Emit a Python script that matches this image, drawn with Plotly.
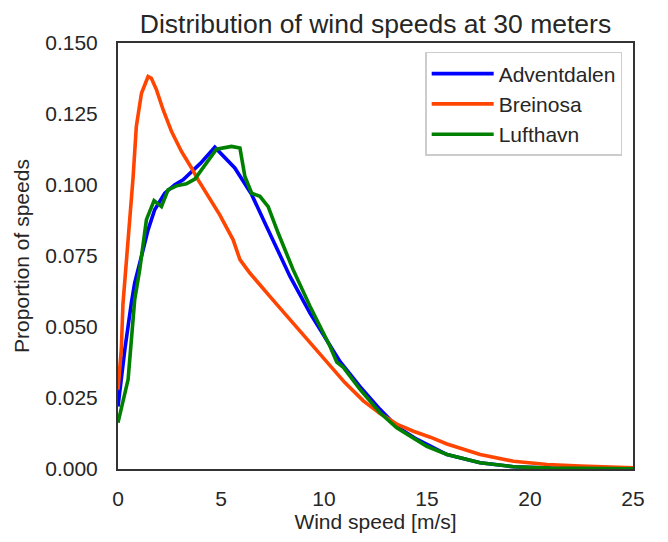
import plotly.graph_objects as go

# Adventdalen
adv_x = [0, 0.33, 0.65, 0.81, 1.14, 1.46, 1.78, 2.27, 2.76, 3.16, 4.0, 4.70, 5.67, 6.49, 7.21, 8.10,
         8.35, 9.32, 10.29, 10.78, 11.75, 12.72, 13.53, 14.5, 15.97, 17.58, 19.2, 21, 23, 25]
adv_y = [0.022, 0.042, 0.0585, 0.0655, 0.0749, 0.0842, 0.0913, 0.0971, 0.1001, 0.1018, 0.1076, 0.1133,
         0.106, 0.0966, 0.0854, 0.0713, 0.0678, 0.0549, 0.0438, 0.0378, 0.029, 0.021, 0.015, 0.0105,
         0.0051, 0.0022, 0.0008, 0.0003, 0.0001, 0.0]

# Breinosa
bre_x = [0, 0.16, 0.24, 0.5, 0.73, 0.89, 1.14, 1.46, 1.62, 1.87, 2.19, 2.6, 3.08, 3.57, 3.89, 4.94,
         5.59, 5.92, 6.40, 7.37, 8.35, 9.32, 10.29, 11.0, 11.91, 12.72, 13.53, 14.34, 15.16, 15.97,
         17.58, 19.2, 20.83, 22.45, 25]
bre_y = [0.028, 0.042, 0.058, 0.08, 0.1024, 0.1206, 0.1323, 0.1382, 0.1376, 0.1335, 0.1265, 0.1188,
         0.1118, 0.106, 0.1018, 0.0895, 0.0807, 0.0737, 0.069, 0.0608, 0.0526, 0.0444, 0.0365, 0.0305,
         0.024, 0.0195, 0.0158, 0.0133, 0.0112, 0.0088, 0.0051, 0.0027, 0.0016, 0.001, 0.0004]

# Lufthavn
luf_x = [0, 0.49, 0.81, 1.05, 1.38, 1.75, 2.11, 2.43, 2.84, 3.32, 3.73, 4.38, 4.78, 5.51, 5.92, 6.16,
         6.49, 6.89, 7.29, 7.78, 8.26, 8.5, 9.32, 10.29, 10.62, 10.94, 11.75, 12.72, 13.53, 14.18,
         14.58, 14.99, 15.97, 17.58, 19.2, 21, 25]
luf_y = [0.0163, 0.0315, 0.0596, 0.070, 0.0878, 0.0945, 0.0924, 0.0983, 0.0997, 0.1004, 0.1021,
         0.1089, 0.1126, 0.1136, 0.113, 0.103, 0.0971, 0.096, 0.0924, 0.083, 0.0749, 0.0702, 0.0573,
         0.0432, 0.0376, 0.0358, 0.028, 0.0198, 0.0145, 0.0115, 0.0098, 0.008, 0.0051, 0.0022, 0.0008,
         0.0003, 0.0001]

x_ticks = [0, 5, 10, 15, 20, 25]
y_ticks = [0.0, 0.025, 0.05, 0.075, 0.1, 0.125, 0.15]

FONT = "Liberation Sans, Arial, sans-serif"
TXT = "#262626"

fig = go.Figure()
for name, xs, ys, col in [("Adventdalen", adv_x, adv_y, "#0000ff"),
                          ("Breinosa", bre_x, bre_y, "#ff4500"),
                          ("Lufthavn", luf_x, luf_y, "#008000")]:
    fig.add_trace(go.Scatter(x=xs, y=ys, mode="lines", name=name,
                             line=dict(color=col, width=3.6)))

axis_common = dict(showline=True, mirror=True, linecolor="#333333", linewidth=2,
                   showgrid=False, zeroline=False, ticks="outside", automargin=False,
                   tickcolor="rgba(0,0,0,0)", tickfont=dict(size=21, color=TXT, family=FONT))

fig.update_layout(
    width=660, height=534,
    margin=dict(l=110, r=35, t=35, b=73),
    paper_bgcolor="white", plot_bgcolor="white",
    font=dict(family=FONT, color=TXT),
    title=dict(text="Distribution of wind speeds at 30 meters", xref="paper", x=0.5, xanchor="center",
               y=1 - 15.5 / 534, yanchor="middle", font=dict(size=26.5, color=TXT, family=FONT)),
    xaxis=dict(range=[0, 25], tickvals=x_ticks, ticklen=10,
               title=dict(text="Wind speed [m/s]", font=dict(size=21, color=TXT), standoff=5),
               **axis_common),
    yaxis=dict(range=[0, 0.15], tickvals=y_ticks, tickformat=".3f", ticklen=14,
               title=dict(text="Proportion of speeds", font=dict(size=21, color=TXT), standoff=10),
               **axis_common),
    legend=dict(x=0.979, xanchor="right", y=0.979, yanchor="top", itemwidth=62,
                bgcolor="white", bordercolor="#cccccc", borderwidth=1.5,
                font=dict(size=21, color=TXT, family=FONT)),
)

fig.write_html("out.html")
